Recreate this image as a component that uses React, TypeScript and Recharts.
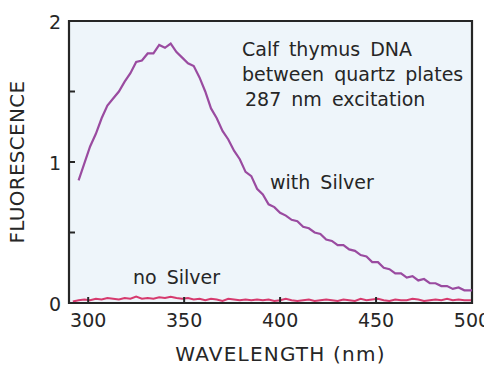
import { LineChart, Line, XAxis, YAxis, ReferenceArea, Label } from 'recharts';

// wavelength (nm)
const wavelengths = [
  292, 295, 298, 301, 304, 307, 310, 313, 316, 319, 322, 325, 328, 331, 334, 337, 340, 343, 346, 349,
  352, 355, 358, 361, 364, 367, 370, 373, 376, 379, 382, 385, 388, 391, 394, 397, 400, 403, 406, 409,
  412, 415, 418, 421, 424, 427, 430, 433, 436, 439, 442, 445, 448, 451, 454, 457, 460, 463, 466, 469,
  472, 475, 478, 481, 484, 487, 490, 493, 496, 500,
];

// fluorescence with silver island film
const withSilver = [
  null, 0.87, 0.99, 1.11, 1.2, 1.31, 1.4, 1.45, 1.5, 1.57, 1.63, 1.71, 1.72, 1.77, 1.77, 1.83, 1.81, 1.84, 1.78, 1.74,
  1.7, 1.68, 1.6, 1.5, 1.38, 1.31, 1.22, 1.16, 1.08, 1.02, 0.93, 0.9, 0.81, 0.77, 0.7, 0.68, 0.64, 0.62, 0.59, 0.58,
  0.54, 0.53, 0.5, 0.49, 0.45, 0.44, 0.41, 0.41, 0.38, 0.37, 0.34, 0.33, 0.29, 0.29, 0.25, 0.24, 0.21, 0.21, 0.18, 0.19,
  0.16, 0.17, 0.14, 0.14, 0.12, 0.12, 0.1, 0.11, 0.09, 0.09,
];

// fluorescence without silver
const noSilver = [
  0.01, 0.02, 0.025, 0.02, 0.03, 0.025, 0.035, 0.03, 0.025, 0.035, 0.03, 0.045, 0.03, 0.035, 0.03, 0.04, 0.035, 0.045, 0.035, 0.03,
  0.035, 0.025, 0.03, 0.02, 0.03, 0.025, 0.015, 0.03, 0.025, 0.02, 0.025, 0.02, 0.025, 0.02, 0.025, 0.015, 0.02, 0.03, 0.02, 0.015,
  0.02, 0.025, 0.015, 0.02, 0.025, 0.02, 0.015, 0.025, 0.02, 0.015, 0.03, 0.02, 0.025, 0.03, 0.02, 0.015, 0.025, 0.02, 0.02, 0.03,
  0.025, 0.015, 0.02, 0.025, 0.02, 0.03, 0.02, 0.025, 0.02, 0.02,
];

const xTicks = [300, 350, 400, 450, 500];
const yTicks = [0, 0.5, 1, 1.5, 2];
const yLabelled = [0, 1, 2];

const data = wavelengths.map((nm, i) => ({ nm, withSilver: withSilver[i], noSilver: noSilver[i] }));

const FONT = '"DejaVu Sans", sans-serif';
const INK = '#262626';
const PLOT_BG = '#EEF5FA';

const XTick = ({ x, y, payload }: any) => (
  <g>
    <line x1={x} y1={y} x2={x} y2={y - 6} stroke={INK} strokeWidth={2} />
    <text x={x} y={y + 24} textAnchor="middle" fontFamily={FONT} fontSize={19} fill={INK}>
      {payload.value}
    </text>
  </g>
);

const YTick = ({ x, y, payload }: any) => (
  <g>
    <line x1={x} y1={y} x2={x + 6} y2={y} stroke={INK} strokeWidth={2} />
    {yLabelled.includes(payload.value) && (
      <text x={x - 8} y={y + 8} textAnchor="end" fontFamily={FONT} fontSize={19} fill={INK}>
        {payload.value}
      </text>
    )}
  </g>
);

const noteStyle = {
  position: 'absolute' as const,
  fontFamily: FONT,
  fontSize: 19,
  color: INK,
  wordSpacing: 4,
  whiteSpace: 'nowrap' as const,
  lineHeight: '25px',
};

export default function App() {
  return (
    // pull the chart up/left over the body margin so it fills the window
    <div style={{ position: 'relative', width: 492, height: 367, marginTop: -8, marginLeft: -8 }}>
      <LineChart width={492} height={367} data={data} margin={{ top: 21, right: 20, left: 0, bottom: 0 }}>
        <ReferenceArea x1={290} x2={500} y1={0} y2={2} fill={PLOT_BG} fillOpacity={1} stroke={INK} strokeWidth={2.2} />
        <XAxis
          dataKey="nm"
          type="number"
          domain={[290, 500]}
          ticks={xTicks}
          allowDataOverflow
          height={64}
          axisLine={false}
          tickLine={false}
          tickSize={0}
          tickMargin={0}
          tick={<XTick />}
        >
          <Label
            value="WAVELENGTH  (nm)"
            position="insideBottom"
            offset={6}
            dx={10}
            style={{ fontFamily: FONT, fontSize: 20, letterSpacing: 1.2, fill: INK }}
          />
        </XAxis>
        <YAxis
          type="number"
          domain={[0, 2]}
          ticks={yTicks}
          width={69}
          axisLine={false}
          tickLine={false}
          tickSize={0}
          tickMargin={0}
          tick={<YTick />}
        >
          <Label
            value="FLUORESCENCE"
            angle={-90}
            position="insideLeft"
            offset={17}
            style={{ fontFamily: FONT, fontSize: 20, letterSpacing: 0.3, fill: INK, textAnchor: 'middle' }}
          />
        </YAxis>
        <Line
          type="linear"
          dataKey="noSilver"
          stroke="#D63A6E"
          strokeWidth={2}
          dot={false}
          isAnimationActive={false}
        />
        <Line
          type="linear"
          dataKey="withSilver"
          stroke="#9A4BA0"
          strokeWidth={2.2}
          dot={false}
          connectNulls
          isAnimationActive={false}
        />
      </LineChart>

      <div style={{ ...noteStyle, left: 242, top: 37 }}>
        <div>Calf thymus DNA</div>
        <div>between quartz plates</div>
        <div style={{ paddingLeft: 3 }}>287 nm excitation</div>
      </div>
      <div style={{ ...noteStyle, left: 270, top: 170 }}>with Silver</div>
      <div style={{ ...noteStyle, left: 133, top: 265 }}>no Silver</div>
    </div>
  );
}
